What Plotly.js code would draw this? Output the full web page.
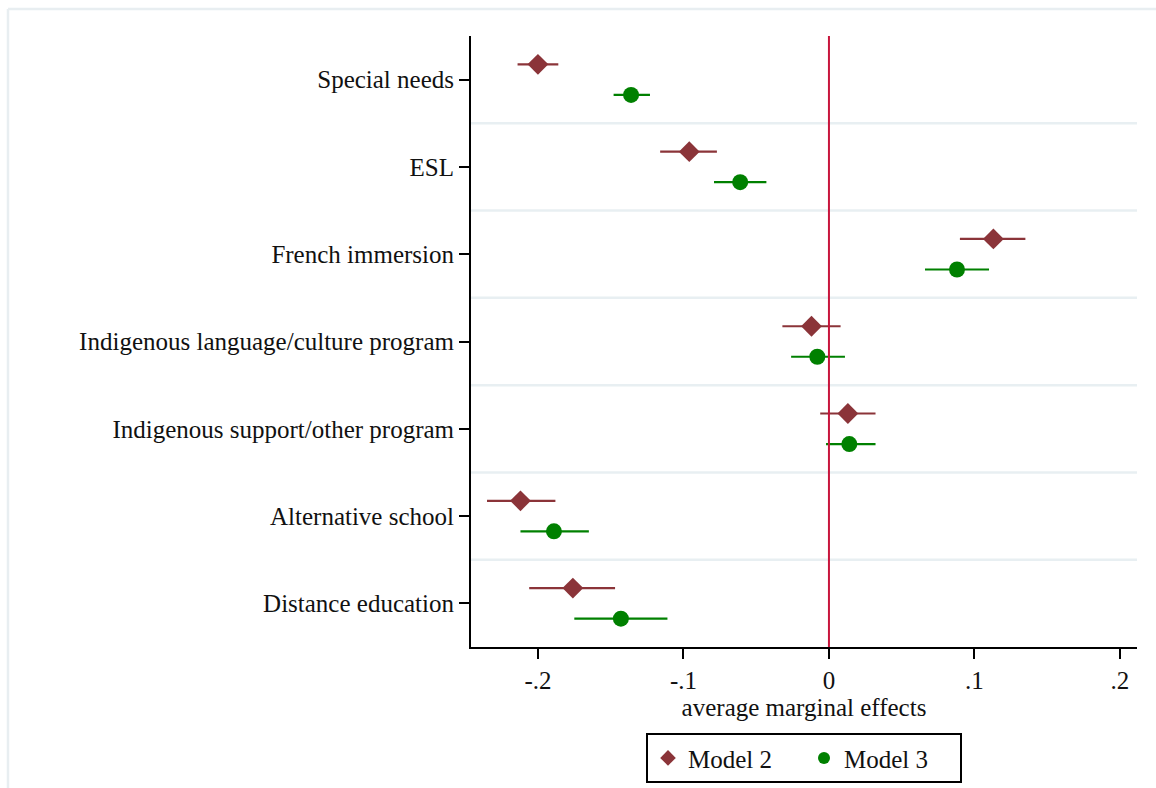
<!DOCTYPE html>
<html>
<head>
<meta charset="utf-8">
<script src="https://cdn.plot.ly/plotly-3.0.1.min.js"></script>
<style>
  html, body { margin: 0; padding: 0; background: #ffffff; }
  #chart { width: 1156px; height: 788px; }
</style>
</head>
<body>
<div id="chart"></div>
<script>
// School program categories, listed top to bottom
const categories = [
  "Special needs",
  "ESL",
  "French immersion",
  "Indigenous language/culture program",
  "Indigenous support/other program",
  "Alternative school",
  "Distance education"
];

// Model 2: average marginal effects with confidence bounds
const model2Est  = [-0.200, -0.096, 0.113, -0.012, 0.013, -0.212, -0.176];
const model2Low  = [-0.214, -0.116, 0.090, -0.032, -0.006, -0.235, -0.206];
const model2High = [-0.186, -0.077, 0.135, 0.008, 0.032, -0.188, -0.147];

// Model 3: average marginal effects with confidence bounds
const model3Est  = [-0.136, -0.061, 0.088, -0.008, 0.014, -0.189, -0.143];
const model3Low  = [-0.148, -0.079, 0.066, -0.026, -0.002, -0.212, -0.175];
const model3High = [-0.123, -0.043, 0.110, 0.011, 0.032, -0.165, -0.111];

// Axis ticks
const xTickVals = [-0.2, -0.1, 0, 0.1, 0.2];
const xTickText = ["-.2", "-.1", "0", ".1", ".2"];

const FONT = "Liberation Serif, Times New Roman, serif";
const FONT_SIZE = 25;
const catPos = categories.map((_, i) => i + 1);
const shift = 0.175;

const maroon = "#8B3439";
const green = "#008000";

const traces = [
  {
    type: "scatter",
    mode: "markers",
    name: "Model 2",
    x: model2Est,
    y: catPos.map(p => p - shift),
    marker: { symbol: "diamond", size: 16, color: maroon },
    error_x: {
      type: "data",
      symmetric: false,
      array: model2High.map((h, i) => h - model2Est[i]),
      arrayminus: model2Est.map((e, i) => e - model2Low[i]),
      color: maroon,
      thickness: 2.2,
      width: 0
    },
    cliponaxis: false
  },
  {
    type: "scatter",
    mode: "markers",
    name: "Model 3",
    x: model3Est,
    y: catPos.map(p => p + shift),
    marker: { symbol: "circle", size: 16, color: green },
    error_x: {
      type: "data",
      symmetric: false,
      array: model3High.map((h, i) => h - model3Est[i]),
      arrayminus: model3Est.map((e, i) => e - model3Low[i]),
      color: green,
      thickness: 2.2,
      width: 0
    },
    cliponaxis: false
  }
];

// Light separators between categories
const shapes = [];
for (let k = 1; k < categories.length; k++) {
  shapes.push({
    type: "line", xref: "paper", yref: "y",
    x0: 0, x1: 1, y0: k + 0.5, y1: k + 0.5,
    line: { color: "#E8EFF2", width: 2.5 },
    layer: "below"
  });
}
// Reference line at zero
shapes.push({
  type: "line", xref: "x", yref: "paper",
  x0: 0, x1: 0, y0: 0, y1: 1,
  line: { color: "#C8153C", width: 2 },
  layer: "above"
});
// Outer frame edges of the graph region
shapes.push({
  type: "line", xref: "paper", yref: "paper",
  x0: -0.6952, x1: 1.03, y0: 1.0442, y1: 1.0442,
  line: { color: "#E8EEF1", width: 2.5 }
});
shapes.push({
  type: "line", xref: "paper", yref: "paper",
  x0: -0.6952, x1: -0.6952, y0: 1.0442, y1: -0.24,
  line: { color: "#E8EEF1", width: 2.5 }
});

const layout = {
  width: 1156,
  height: 788,
  paper_bgcolor: "#ffffff",
  plot_bgcolor: "#ffffff",
  font: { family: FONT, size: FONT_SIZE, color: "#111111" },
  margin: { l: 471, r: 19, t: 36, b: 141, autoexpand: false },
  showlegend: true,
  legend: {
    orientation: "h",
    x: 0.5, xanchor: "center",
    y: -0.141, yanchor: "top",
    bordercolor: "#000000",
    borderwidth: 2,
    bgcolor: "#ffffff",
    font: { family: FONT, size: FONT_SIZE, color: "#111111" },
    itemsizing: "constant",
    entrywidth: 111,
    entrywidthmode: "pixels"
  },
  xaxis: {
    range: [-0.246, 0.2117],
    tickvals: xTickVals,
    ticktext: xTickText,
    ticks: "outside",
    ticklen: 10,
    tickwidth: 2,
    tickcolor: "#000000",
    showline: true,
    linecolor: "#000000",
    linewidth: 2,
    showgrid: false,
    zeroline: false,
    automargin: false,
    tickfont: { family: FONT, size: FONT_SIZE, color: "#111111" },
    title: {
      text: "average marginal effects",
      font: { family: FONT, size: FONT_SIZE, color: "#111111" },
      standoff: 4
    }
  },
  yaxis: {
    range: [7.5, 0.5],
    tickvals: catPos,
    ticktext: categories,
    ticks: "outside",
    ticklen: 10,
    tickwidth: 2,
    tickcolor: "#000000",
    showline: true,
    linecolor: "#000000",
    linewidth: 2,
    showgrid: false,
    zeroline: false,
    automargin: false,
    tickfont: { family: FONT, size: FONT_SIZE, color: "#111111" }
  },
  shapes: shapes
};

Plotly.newPlot("chart", traces, layout, { displayModeBar: false, staticPlot: true });
</script>
</body>
</html>
